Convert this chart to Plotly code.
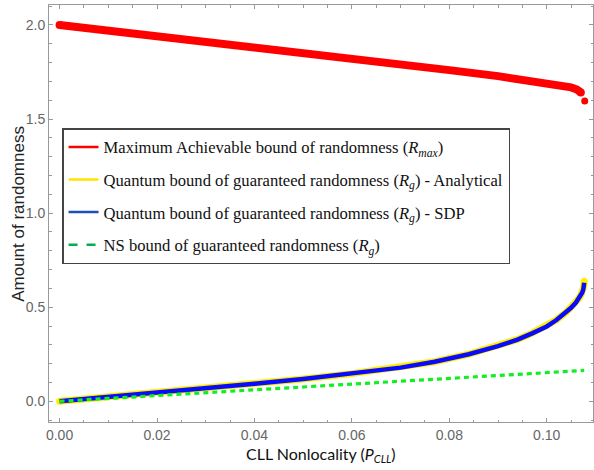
import plotly.graph_objects as go

# ---------------- data ----------------
x_rmax = [0.000, 0.010, 0.020, 0.030, 0.040, 0.050, 0.060, 0.070, 0.080, 0.090,
          0.095, 0.100, 0.103, 0.105, 0.1062, 0.1070]
y_rmax = [2.000, 1.971, 1.941, 1.912, 1.882, 1.852, 1.822, 1.791, 1.760, 1.728,
          1.711, 1.693, 1.680, 1.668, 1.657, 1.641]
x_rmax_end = [0.1078]
y_rmax_end = [1.596]

x_q = [0.000, 0.005, 0.010, 0.020, 0.030, 0.040, 0.050, 0.060, 0.070, 0.077,
       0.084, 0.090, 0.094, 0.097, 0.100, 0.102, 0.104, 0.105, 0.106, 0.1066,
       0.1070, 0.1073, 0.1075, 0.1076, 0.1077]
y_q_analytic = [0.000, 0.011, 0.022, 0.045, 0.069, 0.093, 0.119, 0.147, 0.179,
                0.210, 0.251, 0.294, 0.329, 0.362, 0.399, 0.433, 0.473, 0.498,
                0.526, 0.547, 0.564, 0.580, 0.597, 0.610, 0.638]
y_q_sdp = [0.000, 0.011, 0.022, 0.045, 0.069, 0.093, 0.119, 0.147, 0.179,
           0.210, 0.250, 0.293, 0.328, 0.361, 0.398, 0.432, 0.472, 0.497,
           0.525, 0.545, 0.562, 0.578, 0.594, 0.606, 0.630]

x_ns = [0.000, 0.020, 0.040, 0.060, 0.080, 0.100, 0.1077]
y_ns = [0.000, 0.030, 0.060, 0.090, 0.120, 0.152, 0.164]

legend_names = [
    "Maximum Achievable bound of randomness (<i>R</i><sub><i>max</i></sub>)",
    "Quantum bound of guaranteed randomness (<i>R</i><sub><i>g</i></sub>) - Analytical",
    "Quantum bound of guaranteed randomness (<i>R</i><sub><i>g</i></sub>) - SDP",
    "NS bound of guaranteed randomness (<i>R</i><sub><i>g</i></sub>)",
]

x_tickvals = [0.00, 0.02, 0.04, 0.06, 0.08, 0.10]
y_tickvals = [0.0, 0.5, 1.0, 1.5, 2.0]

# ---------------- figure ----------------
fig = go.Figure()

fig.add_trace(go.Scatter(x=x_rmax, y=y_rmax, mode="lines",
                         line=dict(color="#ff0000", width=8), showlegend=False))
fig.add_trace(go.Scatter(x=[x_rmax[0], x_rmax[-1]], y=[y_rmax[0], y_rmax[-1]],
                         mode="markers",
                         marker=dict(color="#ff0000", size=8), showlegend=False))
fig.add_trace(go.Scatter(x=x_rmax_end, y=y_rmax_end, mode="markers",
                         marker=dict(color="#ff0000", size=7), showlegend=False))

fig.add_trace(go.Scatter(x=x_q, y=y_q_analytic, mode="lines",
                         line=dict(color="#ffee00", width=7), showlegend=False))
fig.add_trace(go.Scatter(x=[x_q[0], x_q[-1]], y=[y_q_analytic[0], y_q_analytic[-1]],
                         mode="markers",
                         marker=dict(color="#ffee00", size=7), showlegend=False))
fig.add_trace(go.Scatter(x=x_q, y=y_q_sdp, mode="lines",
                         line=dict(color="#0a0aff", width=4.5), showlegend=False))
fig.add_trace(go.Scatter(x=x_ns, y=y_ns, mode="lines",
                         line=dict(color="#11ee22", width=3.2, dash="5px,4px"),
                         showlegend=False))

# legend entries
leg_colors = ["#ff0000", "#ffe600", "#1f4fbf", "#00b050"]
leg_dash = ["solid", "solid", "solid", "dash"]
for i, (nm, c, d) in enumerate(zip(legend_names, leg_colors, leg_dash)):
    fig.add_trace(go.Scatter(x=[None], y=[None], mode="lines", name=nm,
                             legendgroup=f"g{i}",
                             line=dict(color=c, width=2.5, dash=d)))

tick_font = dict(family="Liberation Sans Narrow, Arial Narrow, Liberation Sans",
                 size=14, color="#666666")
axis_common = dict(showline=True, linecolor="#999999", linewidth=1, mirror="ticks",
                   ticks="inside", ticklen=4, tickcolor="#999999", tickwidth=1,
                   showgrid=False, zeroline=False, tickfont=tick_font)

fig.update_layout(
    width=594, height=470,
    margin=dict(l=49, r=1, t=5, b=48),
    paper_bgcolor="white", plot_bgcolor="white",
    xaxis=dict(range=[-0.00217, 0.1095], tickvals=x_tickvals, tickformat=".2f",
               minor=dict(dtick=0.005, ticks="inside", ticklen=2.5,
                          tickcolor="#999999"),
               **axis_common),
    yaxis=dict(range=[-0.110, 2.106], tickvals=y_tickvals, tickformat=".1f",
               minor=dict(dtick=0.1, ticks="inside", ticklen=2.5,
                          tickcolor="#999999"),
               **axis_common),
    legend=dict(x=0.024, y=0.7048, xanchor="left", yanchor="top",
                bgcolor="white", bordercolor="#444444", borderwidth=1.5,
                font=dict(family="Liberation Serif", size=16.6, color="#111111"),
                tracegroupgap=8),
    annotations=[
        dict(text="Amount of randomness", xref="paper", yref="paper",
             x=-0.0564, y=0.5, xanchor="center", yanchor="middle",
             textangle=-90, showarrow=False,
             font=dict(family="Liberation Sans", size=17, color="#222222")),
        dict(text="CLL Nonlocality (<i>P</i><sub><i>CLL</i></sub>)",
             xref="paper", yref="paper", x=0.5, y=-0.078,
             xanchor="center", yanchor="middle", showarrow=False,
             font=dict(family="Lato", size=16, color="#111111")),
    ],
)

fig.write_html("out.html", config={"displayModeBar": False},
               post_script="document.body.style.margin='0px';document.body.style.padding='0px';")
